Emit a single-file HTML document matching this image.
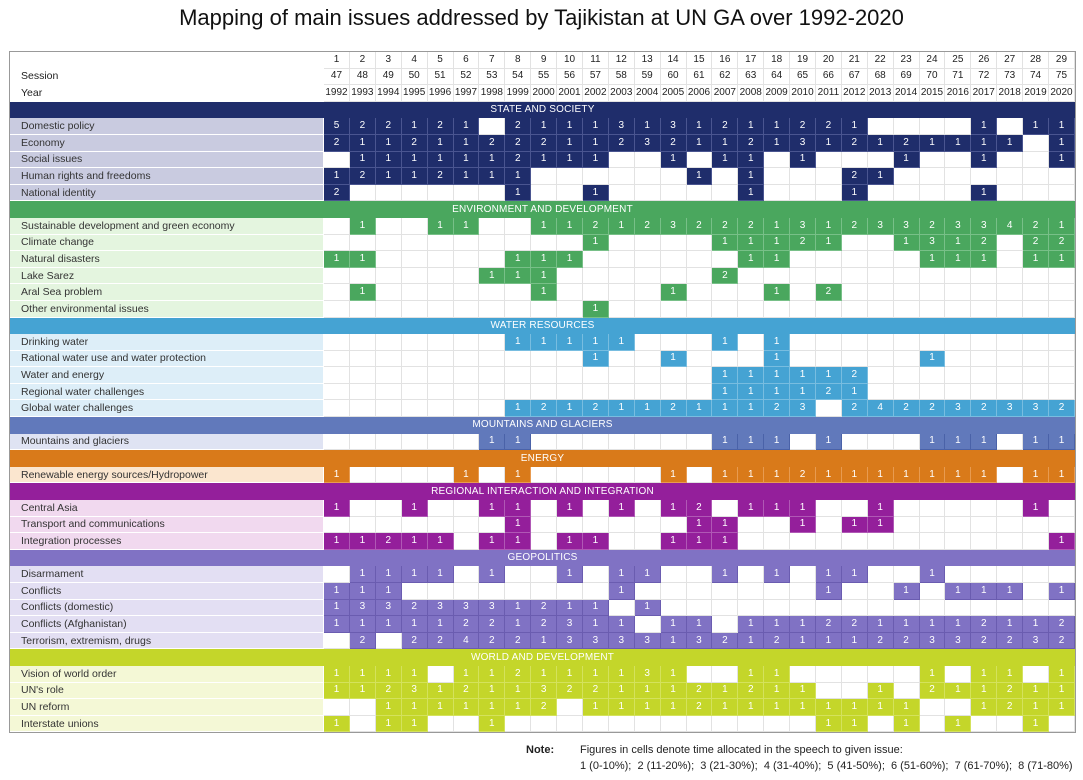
<!DOCTYPE html>
<html><head><meta charset="utf-8">
<style>
html,body{margin:0;padding:0;background:#fff;width:1083px;height:780px;overflow:hidden;font-family:"Liberation Sans",sans-serif;}
h1{position:absolute;left:0;width:1083px;top:5px;margin:0;text-align:center;font-size:22px;font-weight:normal;color:#111;}
table{position:absolute;left:9px;top:51px;border-collapse:separate;border-spacing:0;table-layout:fixed;width:1067px;border:1px solid #999;}
td{height:16.6px;padding:0;box-sizing:border-box;border-right:1px solid #e2e2e2;border-bottom:1px solid #e2e2e2;font-size:10px;text-align:center;color:#fff;line-height:14px;overflow:hidden;white-space:nowrap;}
td.l{text-align:left;padding-left:11px;font-size:10.5px;color:#333;border-right:1px solid #fff;border-bottom:1px solid #fff;}
tr.hd td{color:#222;background:#fff;}
tr.sec td{font-size:10px;letter-spacing:0.2px;border:none;}
tr.s td:not(:empty):not(.l){background:#1f2d6b;border-color:#4a5590}
tr.s td.l{background:#c9cbe0}
tr.e td:not(:empty):not(.l){background:#4aa75e;border-color:#78c088}
tr.e td.l{background:#e4f5df}
tr.w td:not(:empty):not(.l){background:#45a3d3;border-color:#78bde0}
tr.w td.l{background:#ddeef8}
tr.m td:not(:empty):not(.l){background:#6179bb;border-color:#4a62a8}
tr.m td.l{background:#dfe3f3}
tr.n td:not(:empty):not(.l){background:#d97a1a;border-color:#e89b50}
tr.n td.l{background:#fbe6cf}
tr.r td:not(:empty):not(.l){background:#941f9b;border-color:#b058b5}
tr.r td.l{background:#f1d9ef}
tr.g td:not(:empty):not(.l){background:#8072c4;border-color:#6a5cb0}
tr.g td.l{background:#e3dff3}
tr.v td:not(:empty):not(.l){background:#c4d62a;border-color:#d4e25c}
tr.v td.l{background:#f4f8d6}
tr.sec.s td{background:#1f2d6b}
tr.sec.e td{background:#4aa75e}
tr.sec.w td{background:#45a3d3}
tr.sec.m td{background:#6179bb}
tr.sec.n td{background:#d97a1a}
tr.sec.r td{background:#941f9b}
tr.sec.g td{background:#8072c4}
tr.sec.v td{background:#c4d62a}
.note{position:absolute;top:742px;font-size:11px;color:#222;line-height:16px;}
</style></head><body>
<h1>Mapping of main issues addressed by Tajikistan at UN GA over 1992-2020</h1>
<table>
<colgroup><col style="width:314px"><col span="29" style="width:25.9px"></colgroup>
<tr class="hd"><td class="l" style="background:#fff"></td><td>1</td><td>2</td><td>3</td><td>4</td><td>5</td><td>6</td><td>7</td><td>8</td><td>9</td><td>10</td><td>11</td><td>12</td><td>13</td><td>14</td><td>15</td><td>16</td><td>17</td><td>18</td><td>19</td><td>20</td><td>21</td><td>22</td><td>23</td><td>24</td><td>25</td><td>26</td><td>27</td><td>28</td><td>29</td></tr>
<tr class="hd"><td class="l" style="background:#fff">Session</td><td>47</td><td>48</td><td>49</td><td>50</td><td>51</td><td>52</td><td>53</td><td>54</td><td>55</td><td>56</td><td>57</td><td>58</td><td>59</td><td>60</td><td>61</td><td>62</td><td>63</td><td>64</td><td>65</td><td>66</td><td>67</td><td>68</td><td>69</td><td>70</td><td>71</td><td>72</td><td>73</td><td>74</td><td>75</td></tr>
<tr class="hd"><td class="l" style="background:#fff">Year</td><td>1992</td><td>1993</td><td>1994</td><td>1995</td><td>1996</td><td>1997</td><td>1998</td><td>1999</td><td>2000</td><td>2001</td><td>2002</td><td>2003</td><td>2004</td><td>2005</td><td>2006</td><td>2007</td><td>2008</td><td>2009</td><td>2010</td><td>2011</td><td>2012</td><td>2013</td><td>2014</td><td>2015</td><td>2016</td><td>2017</td><td>2018</td><td>2019</td><td>2020</td></tr>
<tr class="sec s"><td colspan="30">STATE AND SOCIETY</td></tr>
<tr class="s"><td class="l">Domestic policy</td><td>5</td><td>2</td><td>2</td><td>1</td><td>2</td><td>1</td><td></td><td>2</td><td>1</td><td>1</td><td>1</td><td>3</td><td>1</td><td>3</td><td>1</td><td>2</td><td>1</td><td>1</td><td>2</td><td>2</td><td>1</td><td></td><td></td><td></td><td></td><td>1</td><td></td><td>1</td><td>1</td></tr>
<tr class="s"><td class="l">Economy</td><td>2</td><td>1</td><td>1</td><td>2</td><td>1</td><td>1</td><td>2</td><td>2</td><td>2</td><td>1</td><td>1</td><td>2</td><td>3</td><td>2</td><td>1</td><td>1</td><td>2</td><td>1</td><td>3</td><td>1</td><td>2</td><td>1</td><td>2</td><td>1</td><td>1</td><td>1</td><td>1</td><td></td><td>1</td></tr>
<tr class="s"><td class="l">Social issues</td><td></td><td>1</td><td>1</td><td>1</td><td>1</td><td>1</td><td>1</td><td>2</td><td>1</td><td>1</td><td>1</td><td></td><td></td><td>1</td><td></td><td>1</td><td>1</td><td></td><td>1</td><td></td><td></td><td></td><td>1</td><td></td><td></td><td>1</td><td></td><td></td><td>1</td></tr>
<tr class="s"><td class="l">Human rights and freedoms</td><td>1</td><td>2</td><td>1</td><td>1</td><td>2</td><td>1</td><td>1</td><td>1</td><td></td><td></td><td></td><td></td><td></td><td></td><td>1</td><td></td><td>1</td><td></td><td></td><td></td><td>2</td><td>1</td><td></td><td></td><td></td><td></td><td></td><td></td><td></td></tr>
<tr class="s"><td class="l">National identity</td><td>2</td><td></td><td></td><td></td><td></td><td></td><td></td><td>1</td><td></td><td></td><td>1</td><td></td><td></td><td></td><td></td><td></td><td>1</td><td></td><td></td><td></td><td>1</td><td></td><td></td><td></td><td></td><td>1</td><td></td><td></td><td></td></tr>
<tr class="sec e"><td colspan="30">ENVIRONMENT AND DEVELOPMENT</td></tr>
<tr class="e"><td class="l">Sustainable development and green economy</td><td></td><td>1</td><td></td><td></td><td>1</td><td>1</td><td></td><td></td><td>1</td><td>1</td><td>2</td><td>1</td><td>2</td><td>3</td><td>2</td><td>2</td><td>2</td><td>1</td><td>3</td><td>1</td><td>2</td><td>3</td><td>3</td><td>2</td><td>3</td><td>3</td><td>4</td><td>2</td><td>1</td></tr>
<tr class="e"><td class="l">Climate change</td><td></td><td></td><td></td><td></td><td></td><td></td><td></td><td></td><td></td><td></td><td>1</td><td></td><td></td><td></td><td></td><td>1</td><td>1</td><td>1</td><td>2</td><td>1</td><td></td><td></td><td>1</td><td>3</td><td>1</td><td>2</td><td></td><td>2</td><td>2</td></tr>
<tr class="e"><td class="l">Natural disasters</td><td>1</td><td>1</td><td></td><td></td><td></td><td></td><td></td><td>1</td><td>1</td><td>1</td><td></td><td></td><td></td><td></td><td></td><td></td><td>1</td><td>1</td><td></td><td></td><td></td><td></td><td></td><td>1</td><td>1</td><td>1</td><td></td><td>1</td><td>1</td></tr>
<tr class="e"><td class="l">Lake Sarez</td><td></td><td></td><td></td><td></td><td></td><td></td><td>1</td><td>1</td><td>1</td><td></td><td></td><td></td><td></td><td></td><td></td><td>2</td><td></td><td></td><td></td><td></td><td></td><td></td><td></td><td></td><td></td><td></td><td></td><td></td><td></td></tr>
<tr class="e"><td class="l">Aral Sea problem</td><td></td><td>1</td><td></td><td></td><td></td><td></td><td></td><td></td><td>1</td><td></td><td></td><td></td><td></td><td>1</td><td></td><td></td><td></td><td>1</td><td></td><td>2</td><td></td><td></td><td></td><td></td><td></td><td></td><td></td><td></td><td></td></tr>
<tr class="e"><td class="l">Other environmental issues</td><td></td><td></td><td></td><td></td><td></td><td></td><td></td><td></td><td></td><td></td><td>1</td><td></td><td></td><td></td><td></td><td></td><td></td><td></td><td></td><td></td><td></td><td></td><td></td><td></td><td></td><td></td><td></td><td></td><td></td></tr>
<tr class="sec w"><td colspan="30">WATER RESOURCES</td></tr>
<tr class="w"><td class="l">Drinking water</td><td></td><td></td><td></td><td></td><td></td><td></td><td></td><td>1</td><td>1</td><td>1</td><td>1</td><td>1</td><td></td><td></td><td></td><td>1</td><td></td><td>1</td><td></td><td></td><td></td><td></td><td></td><td></td><td></td><td></td><td></td><td></td><td></td></tr>
<tr class="w"><td class="l">Rational water use and water protection</td><td></td><td></td><td></td><td></td><td></td><td></td><td></td><td></td><td></td><td></td><td>1</td><td></td><td></td><td>1</td><td></td><td></td><td></td><td>1</td><td></td><td></td><td></td><td></td><td></td><td>1</td><td></td><td></td><td></td><td></td><td></td></tr>
<tr class="w"><td class="l">Water and energy</td><td></td><td></td><td></td><td></td><td></td><td></td><td></td><td></td><td></td><td></td><td></td><td></td><td></td><td></td><td></td><td>1</td><td>1</td><td>1</td><td>1</td><td>1</td><td>2</td><td></td><td></td><td></td><td></td><td></td><td></td><td></td><td></td></tr>
<tr class="w"><td class="l">Regional water challenges</td><td></td><td></td><td></td><td></td><td></td><td></td><td></td><td></td><td></td><td></td><td></td><td></td><td></td><td></td><td></td><td>1</td><td>1</td><td>1</td><td>1</td><td>2</td><td>1</td><td></td><td></td><td></td><td></td><td></td><td></td><td></td><td></td></tr>
<tr class="w"><td class="l">Global water challenges</td><td></td><td></td><td></td><td></td><td></td><td></td><td></td><td>1</td><td>2</td><td>1</td><td>2</td><td>1</td><td>1</td><td>2</td><td>1</td><td>1</td><td>1</td><td>2</td><td>3</td><td></td><td>2</td><td>4</td><td>2</td><td>2</td><td>3</td><td>2</td><td>3</td><td>3</td><td>2</td></tr>
<tr class="sec m"><td colspan="30">MOUNTAINS AND GLACIERS</td></tr>
<tr class="m"><td class="l">Mountains and glaciers</td><td></td><td></td><td></td><td></td><td></td><td></td><td>1</td><td>1</td><td></td><td></td><td></td><td></td><td></td><td></td><td></td><td>1</td><td>1</td><td>1</td><td></td><td>1</td><td></td><td></td><td></td><td>1</td><td>1</td><td>1</td><td></td><td>1</td><td>1</td></tr>
<tr class="sec n"><td colspan="30">ENERGY</td></tr>
<tr class="n"><td class="l">Renewable energy sources/Hydropower</td><td>1</td><td></td><td></td><td></td><td></td><td>1</td><td></td><td>1</td><td></td><td></td><td></td><td></td><td></td><td>1</td><td></td><td>1</td><td>1</td><td>1</td><td>2</td><td>1</td><td>1</td><td>1</td><td>1</td><td>1</td><td>1</td><td>1</td><td></td><td>1</td><td>1</td></tr>
<tr class="sec r"><td colspan="30">REGIONAL INTERACTION AND INTEGRATION</td></tr>
<tr class="r"><td class="l">Central Asia</td><td>1</td><td></td><td></td><td>1</td><td></td><td></td><td>1</td><td>1</td><td></td><td>1</td><td></td><td>1</td><td></td><td>1</td><td>2</td><td></td><td>1</td><td>1</td><td>1</td><td></td><td></td><td>1</td><td></td><td></td><td></td><td></td><td></td><td>1</td><td></td></tr>
<tr class="r"><td class="l">Transport and communications</td><td></td><td></td><td></td><td></td><td></td><td></td><td></td><td>1</td><td></td><td></td><td></td><td></td><td></td><td></td><td>1</td><td>1</td><td></td><td></td><td>1</td><td></td><td>1</td><td>1</td><td></td><td></td><td></td><td></td><td></td><td></td><td></td></tr>
<tr class="r"><td class="l">Integration processes</td><td>1</td><td>1</td><td>2</td><td>1</td><td>1</td><td></td><td>1</td><td>1</td><td></td><td>1</td><td>1</td><td></td><td></td><td>1</td><td>1</td><td>1</td><td></td><td></td><td></td><td></td><td></td><td></td><td></td><td></td><td></td><td></td><td></td><td></td><td>1</td></tr>
<tr class="sec g"><td colspan="30">GEOPOLITICS</td></tr>
<tr class="g"><td class="l">Disarmament</td><td></td><td>1</td><td>1</td><td>1</td><td>1</td><td></td><td>1</td><td></td><td></td><td>1</td><td></td><td>1</td><td>1</td><td></td><td></td><td>1</td><td></td><td>1</td><td></td><td>1</td><td>1</td><td></td><td></td><td>1</td><td></td><td></td><td></td><td></td><td></td></tr>
<tr class="g"><td class="l">Conflicts</td><td>1</td><td>1</td><td>1</td><td></td><td></td><td></td><td></td><td></td><td></td><td></td><td></td><td>1</td><td></td><td></td><td></td><td></td><td></td><td></td><td></td><td>1</td><td></td><td></td><td>1</td><td></td><td>1</td><td>1</td><td>1</td><td></td><td>1</td></tr>
<tr class="g"><td class="l">Conflicts (domestic)</td><td>1</td><td>3</td><td>3</td><td>2</td><td>3</td><td>3</td><td>3</td><td>1</td><td>2</td><td>1</td><td>1</td><td></td><td>1</td><td></td><td></td><td></td><td></td><td></td><td></td><td></td><td></td><td></td><td></td><td></td><td></td><td></td><td></td><td></td><td></td></tr>
<tr class="g"><td class="l">Conflicts (Afghanistan)</td><td>1</td><td>1</td><td>1</td><td>1</td><td>1</td><td>2</td><td>2</td><td>1</td><td>2</td><td>3</td><td>1</td><td>1</td><td></td><td>1</td><td>1</td><td></td><td>1</td><td>1</td><td>1</td><td>2</td><td>2</td><td>1</td><td>1</td><td>1</td><td>1</td><td>2</td><td>1</td><td>1</td><td>2</td></tr>
<tr class="g"><td class="l">Terrorism, extremism, drugs</td><td></td><td>2</td><td></td><td>2</td><td>2</td><td>4</td><td>2</td><td>2</td><td>1</td><td>3</td><td>3</td><td>3</td><td>3</td><td>1</td><td>3</td><td>2</td><td>1</td><td>2</td><td>1</td><td>1</td><td>1</td><td>2</td><td>2</td><td>3</td><td>3</td><td>2</td><td>2</td><td>3</td><td>2</td></tr>
<tr class="sec v"><td colspan="30">WORLD AND DEVELOPMENT</td></tr>
<tr class="v"><td class="l">Vision of world order</td><td>1</td><td>1</td><td>1</td><td>1</td><td></td><td>1</td><td>1</td><td>2</td><td>1</td><td>1</td><td>1</td><td>1</td><td>3</td><td>1</td><td></td><td></td><td>1</td><td>1</td><td></td><td></td><td></td><td></td><td></td><td>1</td><td></td><td>1</td><td>1</td><td></td><td>1</td></tr>
<tr class="v"><td class="l">UN's role</td><td>1</td><td>1</td><td>2</td><td>3</td><td>1</td><td>2</td><td>1</td><td>1</td><td>3</td><td>2</td><td>2</td><td>1</td><td>1</td><td>1</td><td>2</td><td>1</td><td>2</td><td>1</td><td>1</td><td></td><td></td><td>1</td><td></td><td>2</td><td>1</td><td>1</td><td>2</td><td>1</td><td>1</td></tr>
<tr class="v"><td class="l">UN reform</td><td></td><td></td><td>1</td><td>1</td><td>1</td><td>1</td><td>1</td><td>1</td><td>2</td><td></td><td>1</td><td>1</td><td>1</td><td>1</td><td>2</td><td>1</td><td>1</td><td>1</td><td>1</td><td>1</td><td>1</td><td>1</td><td>1</td><td></td><td></td><td>1</td><td>2</td><td>1</td><td>1</td></tr>
<tr class="v"><td class="l">Interstate unions</td><td>1</td><td></td><td>1</td><td>1</td><td></td><td></td><td>1</td><td></td><td></td><td></td><td></td><td></td><td></td><td></td><td></td><td></td><td></td><td></td><td></td><td>1</td><td>1</td><td></td><td>1</td><td></td><td>1</td><td></td><td></td><td>1</td><td></td></tr>
</table>
<div class="note" style="left:526px;font-weight:bold;">Note:</div>
<div class="note" style="left:580px;">Figures in cells denote time allocated in the speech to given issue:<br>1 (0-10%);&nbsp; 2 (11-20%);&nbsp; 3 (21-30%);&nbsp; 4 (31-40%);&nbsp; 5 (41-50%);&nbsp; 6 (51-60%);&nbsp; 7 (61-70%);&nbsp; 8 (71-80%)</div>
</body></html>
